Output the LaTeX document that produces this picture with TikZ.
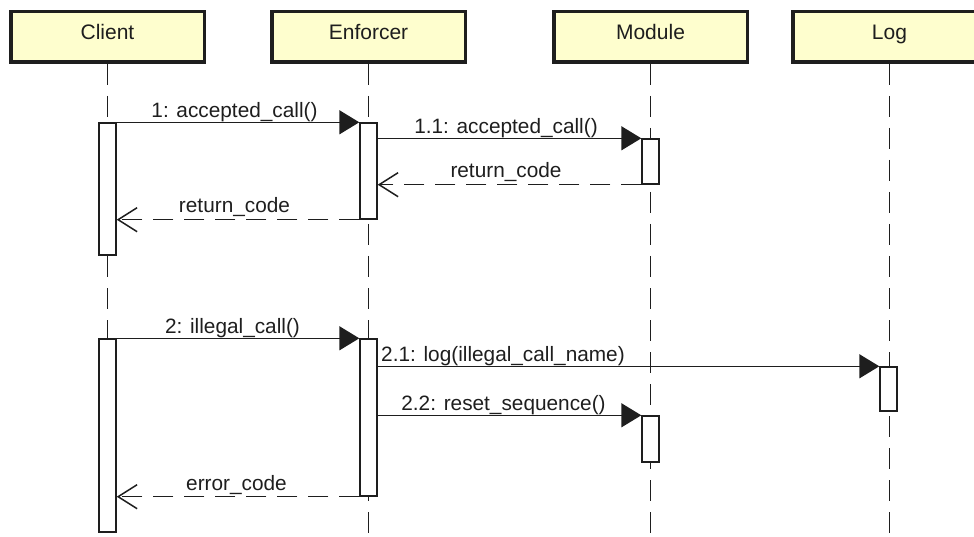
\documentclass[tikz,border=0pt]{standalone}
\usepackage{fontspec}
\setmainfont{Liberation Sans}
\usetikzlibrary{arrows.meta}
\definecolor{headfill}{HTML}{FEFECE}
\definecolor{ink}{HTML}{1E1E1E}
\begin{document}
\begin{tikzpicture}[x=1pt,y=-1pt,
  head/.style={draw=ink, line width=3.5pt, fill=headfill, minimum width=193.5pt,
    minimum height=50.5pt, inner sep=0pt, text height=15pt, text depth=10pt,
    font=\fontsize{21}{24}\selectfont, text=ink},
  life/.style={draw=ink, line width=1.5pt, dash pattern=on 21pt off 11pt},
  act/.style={draw=ink, fill=white, line width=1.4pt, minimum width=17pt, inner sep=0pt},
  call/.style={draw=ink, line width=1.5pt, -{Triangle[length=20pt,width=24pt]}},
  reply/.style={draw=ink, line width=1.5pt, dash pattern=on 20pt off 11pt,
    -{Straight Barb[length=19pt,width=24pt]}},
  msg/.style={anchor=base, inner sep=0pt, text=ink, font=\fontsize{20.8}{24}\selectfont}]
\clip (0,0) rectangle (974,537);
\useasboundingbox (0,0) rectangle (974,537);

% participants
\node[head] (client) at (107.5,37) {Client};
\node[head] (enf)    at (368.5,37) {Enforcer};
\node[head] (mod)    at (650.5,37) {Module};
\node[head] (log)    at (889.5,37) {Log};

% lifelines
\coordinate (bottom) at (0,545);
\foreach \p in {client,enf,mod,log}
  \draw[life] (\p.south) -- (\p.south |- bottom);

% activation bars
\node[act, minimum height=132pt] (c1) at (107.5,189) {};
\node[act, minimum height=96pt]  (e1) at (368.5,171) {};
\node[act, minimum height=45pt]  (m1) at (650.5,161.5) {};
\node[act, minimum height=193pt] (c2) at (107.5,435.5) {};
\node[act, minimum height=157pt] (e2) at (368.5,417.5) {};
\node[act, minimum height=44pt]  (l2) at (888.5,389) {};
\node[act, minimum height=46pt]  (m2) at (650.5,439) {};

% first exchange
\draw[call]  (c1.north east) -- (e1.north west);
\draw[call]  (e1.east |- m1.north) -- (m1.north west);
\draw[reply] (m1.south west) -- (e1.east |- m1.south);
\draw[reply] (e1.south west) -- (c1.east |- e1.south);

% second exchange
\draw[call]  (c2.north east) -- (e2.north west);
\draw[call]  (e2.east |- l2.north) -- (l2.north west);
\draw[call]  (e2.east |- m2.north) -- (m2.north west);
\draw[reply] (e2.south west) -- (c2.east |- e2.south);

% message labels
\node[msg] (t1)  at (234.5,117.5) {1: accepted\_call()};
\node[msg] (t11) at (506,133.5)   {1.1: accepted\_call()};
\node[msg] (t12) at (506,178)     {return\_code};
\node[msg] (t13) at (234.5,213)   {return\_code};
\node[msg] (t2)  at (232.5,333)   {2: illegal\_call()};
\node[msg, anchor=base west] (t21) at (381,361) {2.1: log(illegal\_call\_name)};
\node[msg] (t22) at (503.5,410)   {2.2: reset\_sequence()};
\node[msg] (t23) at (236.5,490)   {error\_code};
\end{tikzpicture}
\end{document}
